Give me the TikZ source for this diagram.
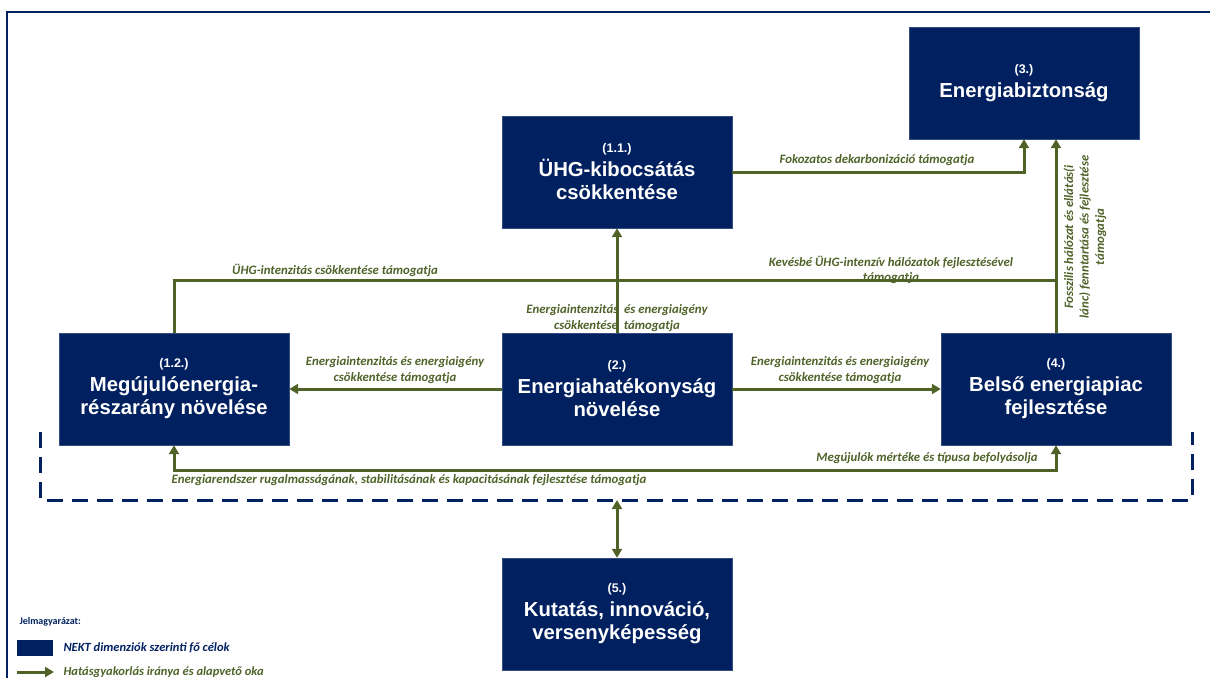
\documentclass[tikz,border=0pt]{standalone}
\usepackage{fontspec}
\usetikzlibrary{arrows.meta}
\newfontfamily\boxfont{Liberation Sans}
\newfontfamily\lblfont{Carlito}
\definecolor{nektblue}{HTML}{002060}
\definecolor{nektgreen}{HTML}{4F6228}

\begin{document}
\begin{tikzpicture}[x=1pt,y=-1pt,
    goal/.style={draw=nektblue!80!white, fill=nektblue, text=white, minimum width=230pt,
      minimum height=112pt, align=center, font=\boxfont\bfseries\fontsize{20.3}{23.5}\selectfont},
    hatas/.style={draw=nektgreen, line width=3pt, -{Triangle[length=9pt,width=10pt]}},
    lbl/.style={text=nektgreen, align=center, font=\lblfont\bfseries\itshape\fontsize{12.8}{15.5}\selectfont}]
    \useasboundingbox (0,0) rectangle (1210,678);
    \draw[nektblue, line width=1.5pt] (7,678) -- (7,12) -- (1210,12);

    \newcommand{\nr}[1]{{\fontsize{12.5}{15}\selectfont #1}\\}
    \node[goal] (ghg) at (617,172) {\nr{(1.1.)}ÜHG-kibocsátás\\csökkentése};
    \node[goal] (sec) at (1024,83) {\nr{(3.)}Energiabiztonság};
    \node[goal] (res) at (174,389) {\nr{(1.2.)}Megújulóenergia-\\részarány növelése};
    \node[goal] (eff) at (617,389) {\nr{(2.)}Energiahatékonyság\\növelése};
    \node[goal] (mkt) at (1056,389) {\nr{(4.)}Belső energiapiac\\fejlesztése};
    \node[goal] (rdi) at (617,614) {\nr{(5.)}Kutatás, innováció,\\versenyképesség};

    \coordinate (joint) at (1056,280);
    \coordinate (dl1) at (40,432);
    \coordinate (dl2) at (40,500);
    \coordinate (dr2) at (1192,500);
    \coordinate (dr1) at (1192,432);

    % labels
    \node[lbl] (l1) at (877,160) {Fokozatos dekarbonizáció támogatja};
    \node[lbl] (l2) at (335,270) {ÜHG-intenzitás csökkentése támogatja};
    \node[lbl] (l3) at (891,270) {Kevésbé ÜHG-intenzív hálózatok fejlesztésével\\támogatja};
    \node[lbl] (l4) at (617,318) {Energiaintenzitás \ és energiaigény\\csökkentése \ támogatja};
    \node[lbl, rotate=90] (l5) at (1085,237) {Fosszilis hálózat és ellátás(i\\lánc) fenntartása és fejlesztése\\támogatja};
    \node[lbl] (l6) at (395,370) {Energiaintenzitás és energiaigény\\csökkentése támogatja};
    \node[lbl] (l7) at (840,370) {Energiaintenzitás és energiaigény\\csökkentése támogatja};
    \node[lbl] (l8) at (927,458) {Megújulók mértéke és típusa befolyásolja};
    \node[lbl] (l9) at (409,480) {Energiarendszer rugalmasságának, stabilitásának és kapacitásának fejlesztése támogatja};

    % connectors
    \draw[hatas] (ghg.east) -| (sec.south);
    \draw[hatas] (mkt.north) -- (mkt.north |- sec.south);
    \draw[hatas, -] (res.north) |- (joint);
    \draw[hatas] (eff.north) -- (ghg.south);
    \draw[hatas] (eff.west) -- (res.east);
    \draw[hatas] (eff.east) -- (mkt.west);
    \draw[hatas, {Triangle[length=9pt,width=10pt]}-{Triangle[length=9pt,width=10pt]}]
      (res.south) -- ++(0,25) -| (mkt.south);
    \draw[nektblue, line width=3pt, dash pattern=on 16pt off 9pt] (dl1) -- (dl2) -- (dr2) -- (dr1);
    \draw[hatas, {Triangle[length=9pt,width=10pt]}-{Triangle[length=9pt,width=10pt]}]
      (rdi.north) -- (rdi.north |- dl2);

    % legend
    \node[anchor=west, text=nektblue, font=\lblfont\bfseries\fontsize{10}{12}\selectfont] (lgt) at (16,622) {Jelmagyarázat:};
    \node[fill=nektblue, minimum width=36pt, minimum height=16pt, inner sep=0pt] (lgbox) at (35,648) {};
    \node[anchor=west, text=nektblue, font=\lblfont\bfseries\itshape\fontsize{12.5}{14}\selectfont] (lgb) at (60,648) {NEKT dimenziók szerinti fő célok};
    \coordinate (lga) at (17,672);
    \coordinate (lgz) at (54,672);
    \node[anchor=west, lbl, font=\lblfont\bfseries\itshape\fontsize{12.5}{14}\selectfont] (lgh) at (60,672) {Hatásgyakorlás iránya és alapvető oka};
    \draw[hatas] (lga) -- (lgz);
\end{tikzpicture}
\end{document}
